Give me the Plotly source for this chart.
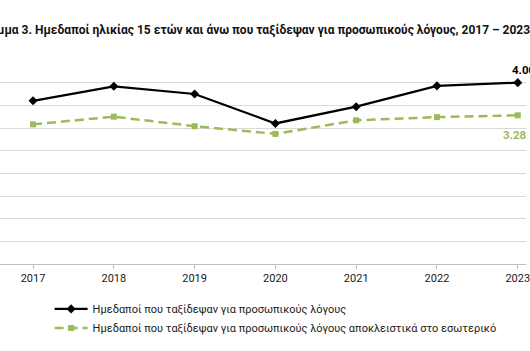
import plotly.graph_objects as go

years = ["2017", "2018", "2019", "2020", "2021", "2022", "2023"]
total_personal = [3.60, 3.92, 3.75, 3.10, 3.47, 3.93, 4.00]
domestic_only = [3.08, 3.25, 3.04, 2.87, 3.17, 3.24, 3.28]
name_total = "Ημεδαποί που ταξίδεψαν για προσωπικούς λόγους"
name_domestic = "Ημεδαποί που ταξίδεψαν για προσωπικούς λόγους αποκλειστικά στο εσωτερικό"
title_text = "Διάγραμμα 3. Ημεδαποί ηλικίας 15 ετών και άνω που ταξίδεψαν για προσωπικούς λόγους, 2017 – 2023"

GREEN = "#9bbb59"
FONT = "Roboto"
last = len(years) - 1

fig = go.Figure()
fig.add_trace(go.Scatter(
    x=years, y=total_personal, name=name_total, mode="lines+markers",
    line=dict(color="#000000", width=2.25),
    marker=dict(symbol="diamond", size=7, color="#000000"),
))
fig.add_trace(go.Scatter(
    x=years, y=domestic_only, name=name_domestic, mode="lines+markers",
    line=dict(color=GREEN, width=2.5, dash="9px,5px"),
    marker=dict(symbol="square", size=6, color=GREEN),
))

fig.add_annotation(x=last, y=total_personal[last], text=f"<b>{total_personal[last]:.2f}</b>",
                   showarrow=False, yshift=13, xshift=6, font=dict(family=FONT, size=11.5, color="#000000"))
fig.add_annotation(x=last, y=domestic_only[last], text=f"<b>{domestic_only[last]:.2f}</b>",
                   showarrow=False, yshift=-20, xshift=-3, font=dict(family=FONT, size=11.5, color=GREEN))

fig.add_annotation(xref="paper", yref="paper", x=536 / 530, y=(264 - 30) / 204,
                   xanchor="right", yanchor="middle", showarrow=False,
                   text=f"<b>{title_text}</b>", font=dict(family=FONT, size=12, color="#111111"))

fig.update_layout(
    width=530, height=351,
    margin=dict(l=0, r=0, t=60, b=87),
    paper_bgcolor="white", plot_bgcolor="white",
    font=dict(family=FONT, size=11, color="#000000"),
    showlegend=True,
    legend=dict(x=50 / 530, y=-0.149, xanchor="left", yanchor="top",
                font=dict(family=FONT, size=11, color="#1a1a1a"),
                itemwidth=33, tracegroupgap=0, bgcolor="rgba(0,0,0,0)"),
    xaxis=dict(type="category", range=[-0.409, 6.102], showgrid=False,
               showline=True, linecolor="#bfbfbf", linewidth=1,
               ticks="outside", ticklen=4, tickcolor="#bfbfbf",
               tickfont=dict(family=FONT, size=11, color="#1a1a1a")),
    yaxis=dict(range=[0, 4.5], dtick=0.5, showgrid=True, gridcolor="#d9d9d9",
               gridwidth=1, showticklabels=False, zeroline=False, showline=False),
)

fig.write_html("out.html")
